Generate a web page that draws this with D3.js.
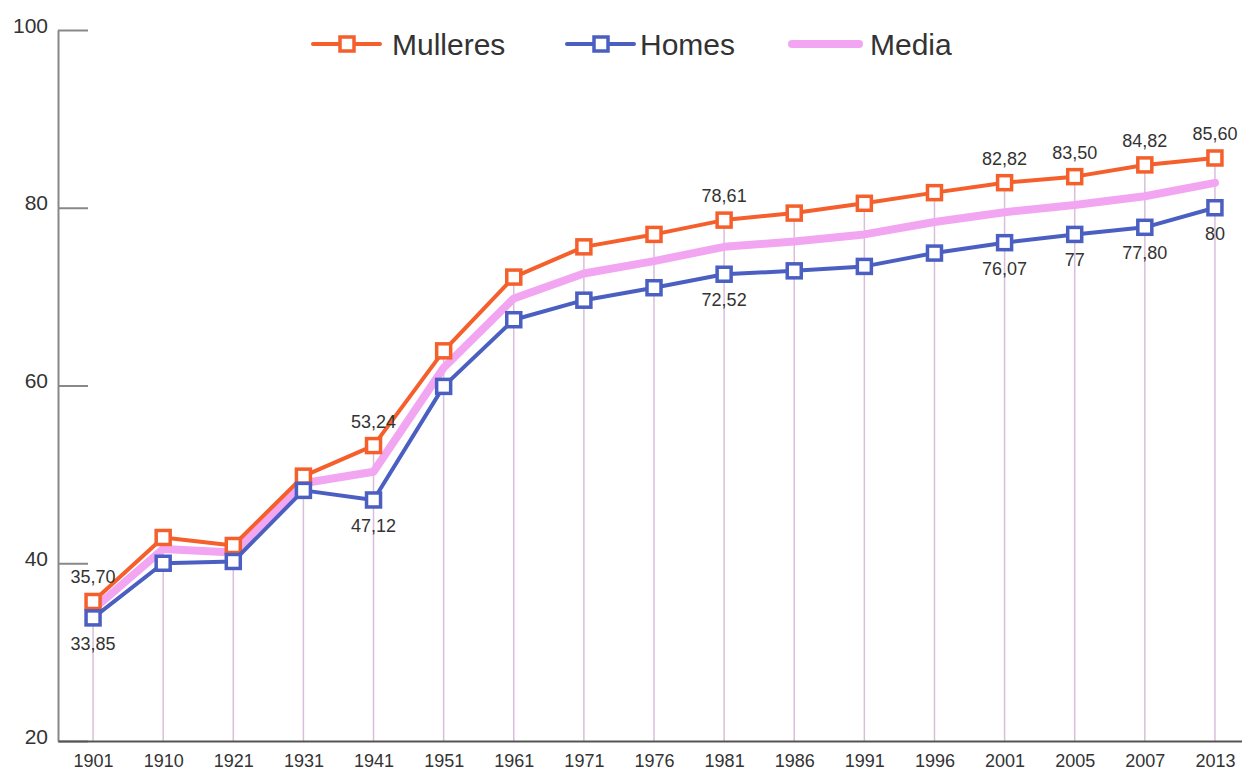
<!DOCTYPE html>
<html>
<head>
<meta charset="utf-8">
<script src="https://cdn.jsdelivr.net/npm/d3@7"></script>
<style>
  body { margin: 0; background: #fff; }
  svg text { font-family: "Liberation Sans", Arial, sans-serif; }
</style>
</head>
<body>
<svg id="chart" width="1242" height="776"></svg>
<script>
const years = ['1901','1910','1921','1931','1941','1951','1961','1971','1976','1981','1986','1991','1996','2001','2005','2007','2013'];
const mulleres = [35.70, 42.9, 42.0, 49.8, 53.24, 63.9, 72.2, 75.6, 77.0, 78.61, 79.4, 80.5, 81.7, 82.82, 83.50, 84.82, 85.60];
const homes = [33.85, 40.0, 40.2, 48.2, 47.12, 59.9, 67.4, 69.6, 71.0, 72.52, 72.9, 73.4, 74.9, 76.07, 77, 77.80, 80];
const media = [34.8, 41.6, 41.2, 49.0, 50.3, 62.0, 69.8, 72.6, 74.0, 75.6, 76.2, 77.0, 78.4, 79.5, 80.3, 81.3, 82.8];
const yTicks = [20, 40, 60, 80, 100];
// years that carry value labels
const labelled = ['1901','1941','1981','2001','2005','2007','2013'];

const svg = d3.select('#chart');
const plotLeft = 58, plotTop = 30, plotBottom = 741;

const x = d3.scalePoint().domain(years).range([plotLeft, 1250]).padding(0.5);
const y = d3.scaleLinear().domain([20, 100]).range([plotBottom, plotTop]);

const fmt = v => Number.isInteger(v) ? String(v) : v.toFixed(2).replace('.', ',');

// drop lines
svg.append('g').selectAll('line')
  .data(years)
  .enter().append('line')
  .attr('x1', d => x(d)).attr('x2', d => x(d))
  .attr('y1', (d, i) => y(mulleres[i])).attr('y2', plotBottom)
  .attr('stroke', '#d9bedb').attr('stroke-width', 1.5);

// y axis
const yAxis = svg.append('g')
  .attr('transform', `translate(${plotLeft},0)`)
  .call(d3.axisLeft(y).tickValues(yTicks).tickSizeInner(-30).tickSizeOuter(0).tickPadding(10));
yAxis.select('.domain').attr('stroke', '#888').attr('stroke-width', 2);
yAxis.selectAll('.tick line').attr('stroke', '#888').attr('stroke-width', 2);
yAxis.selectAll('.tick text').attr('font-size', 21).attr('fill', '#333').attr('dy', '0.1em');

// x axis
const xAxis = svg.append('g')
  .attr('transform', `translate(0,${plotBottom})`)
  .call(d3.axisBottom(x).tickSize(0).tickPadding(13));
xAxis.select('.domain').attr('stroke', '#555').attr('stroke-width', 2);
xAxis.selectAll('.tick text').attr('font-size', 18).attr('fill', '#333');

const series = [
  { name: 'Mulleres', values: mulleres, color: '#f55f2c', width: 4, marker: true },
  { name: 'Homes', values: homes, color: '#4a5fc1', width: 4, marker: true },
  { name: 'Media', values: media, color: '#f2a6f2', width: 8, marker: false }
];

const drawOrder = [series[2], series[0], series[1]];
drawOrder.forEach(s => {
  const line = d3.line()
    .x((d, i) => x(years[i]))
    .y(d => y(d));
  svg.append('path')
    .datum(s.values)
    .attr('d', line)
    .attr('fill', 'none')
    .attr('stroke', s.color)
    .attr('stroke-width', s.width)
    .attr('stroke-linejoin', 'round')
    .attr('stroke-linecap', 'round');
  if (s.marker) {
    svg.append('g').selectAll('rect')
      .data(s.values)
      .enter().append('rect')
      .attr('x', (d, i) => x(years[i]) - 7)
      .attr('y', d => y(d) - 7)
      .attr('width', 14).attr('height', 14)
      .attr('fill', '#fff')
      .attr('stroke', s.color)
      .attr('stroke-width', 3.5);
  }
});

// value labels
const labelData = [
  { values: mulleres, dy: -18 },
  { values: homes, dy: 32 }
];
labelData.forEach(l => {
  svg.append('g').selectAll('text')
    .data(years.map((yr, i) => ({ yr, v: l.values[i] })).filter(d => labelled.includes(d.yr)))
    .enter().append('text')
    .attr('x', d => x(d.yr))
    .attr('y', d => y(d.v) + l.dy)
    .attr('text-anchor', 'middle')
    .attr('font-size', 18)
    .attr('fill', '#333')
    .text(d => fmt(d.v));
});

// legend
const legendLineX = [313, 567, 792];
const legendTextX = [392, 640, 870];
const legend = svg.append('g').selectAll('g')
  .data(series)
  .enter().append('g')
  .attr('transform', (d, i) => `translate(${legendLineX[i]},44)`);
legend.append('line')
  .attr('x1', 0).attr('x2', 67).attr('y1', 0).attr('y2', 0)
  .attr('stroke', d => d.color)
  .attr('stroke-width', d => d.width)
  .attr('stroke-linecap', 'round');
legend.filter(d => d.marker).append('rect')
  .attr('x', 27).attr('y', -7).attr('width', 14).attr('height', 14)
  .attr('fill', '#fff')
  .attr('stroke', d => d.color)
  .attr('stroke-width', 3.5);
legend.append('text')
  .attr('x', (d, i) => legendTextX[i] - legendLineX[i])
  .attr('y', 11)
  .attr('font-size', 30)
  .attr('fill', '#333')
  .text(d => d.name);
</script>
</body>
</html>
